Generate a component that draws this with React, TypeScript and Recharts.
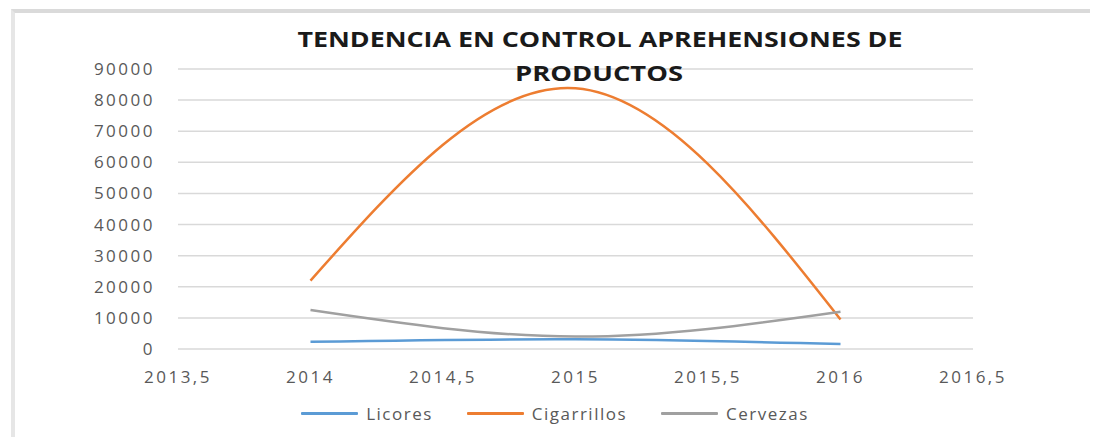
import { CartesianGrid, Line, LineChart, XAxis, YAxis } from 'recharts';

const years = [2014, 2015, 2016];
const licores = [2300, 3100, 1600];
const cigarrillos = [22000, 83800, 9500];
const cervezas = [12500, 4000, 12000];

const xTicks = [2013.5, 2014, 2014.5, 2015, 2015.5, 2016, 2016.5];
const yTicks = [0, 10000, 20000, 30000, 40000, 50000, 60000, 70000, 80000, 90000];

const seriesInfo = [
  { key: 'licores', name: 'Licores', color: '#5b9bd5' },
  { key: 'cigarrillos', name: 'Cigarrillos', color: '#ed7d31' },
  { key: 'cervezas', name: 'Cervezas', color: '#a0a0a0' },
];

const data = years.map((year, i) => ({
  year,
  licores: licores[i],
  cigarrillos: cigarrillos[i],
  cervezas: cervezas[i],
}));

const tickStyle = {
  fill: '#595959',
  fontSize: 17,
  fontFamily: 'Open Sans',
  letterSpacing: 2.5,
};

const ChartLegend = () => (
  <div
    style={{
      position: 'absolute',
      left: 0,
      top: 402,
      width: 1098,
      display: 'flex',
      justifyContent: 'center',
      alignItems: 'center',
      gap: 34,
      paddingLeft: 12,
      boxSizing: 'border-box',
    }}
  >
    {seriesInfo.map((s) => (
      <div key={s.key} style={{ display: 'flex', alignItems: 'center', gap: 8 }}>
        <div style={{ width: 57, height: 3, background: s.color, borderRadius: 1 }} />
        <span style={{ color: '#595959', fontSize: 17, fontFamily: 'Open Sans', letterSpacing: 1.5 }}>{s.name}</span>
      </div>
    ))}
  </div>
);

export default function App() {
  return (
    <div style={{ position: 'relative', width: 1098, height: 445, margin: -8, background: '#fff', overflow: 'hidden' }}>
      <div
        style={{
          position: 'absolute',
          left: 11,
          top: 9,
          right: 0,
          bottom: 0,
          borderTop: '4px solid #dadada',
          borderLeft: '4px solid #e6e6e6',
        }}
      />
      <div style={{ position: 'absolute', left: 0, top: 0 }}>
        <LineChart width={1098} height={445} data={data} margin={{ top: 69, right: 125, left: 118, bottom: 66 }}>
          <CartesianGrid vertical={false} stroke="#d9d9d9" strokeWidth={1.5} />
          <XAxis
            dataKey="year"
            type="number"
            domain={[2013.5, 2016.5]}
            ticks={xTicks}
            tickFormatter={(v: number) => String(v).replace('.', ',')}
            axisLine={false}
            tickLine={false}
            tickMargin={16}
            height={30}
            tick={tickStyle}
            interval={0}
          />
          <YAxis
            domain={[0, 90000]}
            ticks={yTicks}
            axisLine={false}
            tickLine={false}
            tickMargin={17}
            width={60}
            tick={tickStyle}
            interval={0}
          />
          {seriesInfo.map((s) => (
            <Line
              key={s.key}
              dataKey={s.key}
              name={s.name}
              type="natural"
              stroke={s.color}
              strokeWidth={2.5}
              dot={false}
              activeDot={false}
              isAnimationActive={false}
            />
          ))}
        </LineChart>
      </div>
      <svg width={1098} height={100} style={{ position: 'absolute', left: 0, top: 0 }}>
        <text
          x={600}
          y={47}
          textAnchor="middle"
          textLength={605}
          lengthAdjust="spacingAndGlyphs"
          fontFamily="Open Sans"
          fontWeight="bold"
          fontSize={21}
          fill="#1a1a1a"
        >
          TENDENCIA EN CONTROL APREHENSIONES DE
        </text>
        <text
          x={599}
          y={81}
          textAnchor="middle"
          textLength={168}
          lengthAdjust="spacingAndGlyphs"
          fontFamily="Open Sans"
          fontWeight="bold"
          fontSize={21}
          fill="#1a1a1a"
        >
          PRODUCTOS
        </text>
      </svg>
      <ChartLegend />
    </div>
  );
}
